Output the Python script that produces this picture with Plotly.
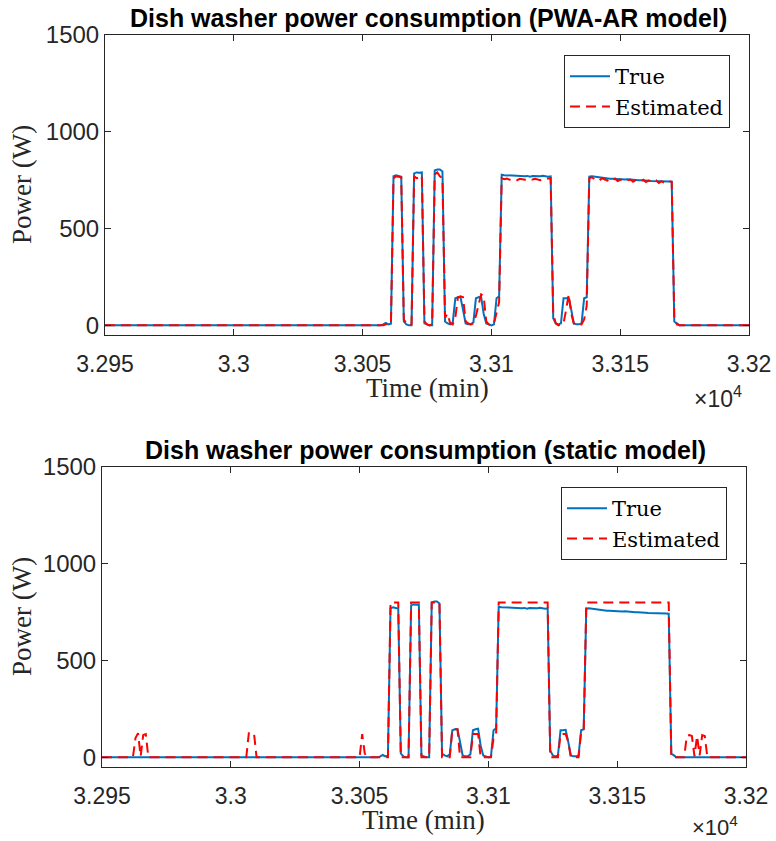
import plotly.graph_objects as go

# ---------------- data (time in minutes, power in W) ----------------
t_start = 32950
t_end = 33200
t_active = list(range(33055, 33174))

true_active = [
    0, 0, 0, 5, 12, 5, 8, 770, 775, 772, 768, 20, 5, 0, 0, 785, 790, 788, 790, 10,
    5, 0, 0, 800, 805, 805, 795, 20, 10, 5, 15, 140, 145, 145, 80, 10, 5, 5, 15, 140,
    145, 148, 60, 10, 5, 0, 5, 140, 150,
    778, 776, 775, 773, 772, 774, 770, 771, 769, 770, 772, 768, 771, 770, 768, 770,
    773, 770, 768, 770,
    36, 10, 5, 10, 140, 140, 142, 80, 10, 5, 5, 10, 140, 145,
    768, 770, 768, 765, 762, 760, 760, 758, 757, 757, 756, 757, 755, 755, 754, 755,
    753, 752, 752, 750, 750, 748, 748, 747, 746, 746, 745, 745, 744, 744, 743, 743, 742,
    20, 10, 0,
]

pwa_active = [
    0, 0, 0, 0, 5, 10, 8, 760, 770, 768, 765, 30, 10, 0, 5, 770, 760, 765, 775, 20,
    5, 0, 5, 780, 790, 770, 760, 40, 60, 10, 5, 40, 145, 150, 145, 20, 10, 5, 10, 50,
    110, 160, 150, 20, 5, 0, 10, 60, 120,
    760, 755, 758, 752, 757, 755, 750, 757, 755, 752, 758, 755, 753, 757, 755, 750,
    755, 760, 758, 760,
    60, 10, 0, 5, 10, 80, 160, 60, 10, 5, 0, 5, 30, 100,
    760, 765, 755, 758, 750, 760, 752, 748, 757, 750, 758, 745, 752, 755, 748, 750,
    753, 742, 750, 748, 745, 752, 740, 748, 745, 742, 748, 735, 745, 738, 736, 745, 742,
    30, 5, 0,
]

static_active = [
    0, 0, 0, 0, 0, 0, 0, 800, 800, 800, 800, 0, 0, 0, 0, 800, 800, 800, 800, 0,
    0, 0, 0, 800, 800, 800, 800, 0, 0, 0, 0, 145, 145, 145, 0, 0, 0, 0, 0, 120,
    120, 120, 0, 0, 0, 0, 0, 100, 120,
    800, 800, 800, 800, 800, 800, 800, 800, 800, 800, 800, 800, 800, 800, 800, 800,
    800, 800, 800, 800,
    0, 0, 0, 0, 120, 120, 120, 80, 0, 0, 0, 0, 130, 140,
    800, 800, 800, 800, 800, 800, 800, 800, 800, 800, 800, 800, 800, 800, 800, 800,
    800, 800, 800, 800, 800, 800, 800, 800, 800, 800, 800, 800, 800, 800, 800, 800, 800,
    0, 0, 0,
]

# spurious static-model spikes in the idle periods
static_pre_t = [32962, 32963, 32964, 32965, 32966, 32967, 32968,
                33006, 33007, 33008, 33009, 33010,
                33050, 33051, 33052, 33053]
static_pre_v = [0, 100, 125, 5, 115, 120, 0,
                0, 125, 125, 125, 0,
                0, 120, 20, 0]
static_post_t = [33176, 33177, 33178, 33179, 33180, 33181, 33182, 33183, 33184, 33185]
static_post_v = [0, 110, 115, 110, 5, 110, 10, 115, 110, 0]

x_tickvals = [32950, 33000, 33050, 33100, 33150, 33200]
x_ticktext = ["3.295", "3.3", "3.305", "3.31", "3.315", "3.32"]
y_tickvals = [0, 500, 1000, 1500]

# ---------------- full series ----------------
t_full = [t_start] + t_active + [t_end]
true_full = [0] + true_active + [0]
pwa_full = [0] + pwa_active + [0]
t_static = [t_start] + static_pre_t + t_active + static_post_t + [t_end]
static_full = [0] + static_pre_v + static_active + static_post_v + [0]

W, H = 776, 841
BLUE = "#0072BD"
RED = "#FF0000"
AX = "#262626"
SANS = "Liberation Sans, Arial, sans-serif"
SERIF = "Liberation Serif, Times New Roman, serif"
LSERIF = "DejaVu Serif, Liberation Serif, serif"

def px(x):
    return x / W

def py(y):
    return 1 - y / H

fig = go.Figure()

fig.add_trace(go.Scatter(x=t_full, y=true_full, mode="lines", name="True",
                         line=dict(color=BLUE, width=2), xaxis="x", yaxis="y",
                         legend="legend"))
fig.add_trace(go.Scatter(x=t_full, y=pwa_full, mode="lines", name="Estimated",
                         line=dict(color=RED, width=2, dash="10px,6px"),
                         xaxis="x", yaxis="y", legend="legend"))
fig.add_trace(go.Scatter(x=t_full, y=true_full, mode="lines", name="True",
                         line=dict(color=BLUE, width=2), xaxis="x2", yaxis="y2",
                         legend="legend2"))
fig.add_trace(go.Scatter(x=t_static, y=static_full, mode="lines", name="Estimated",
                         line=dict(color=RED, width=2, dash="10px,6px"),
                         xaxis="x2", yaxis="y2", legend="legend2"))

common_x = dict(range=[t_start, t_end], tickvals=x_tickvals, ticktext=x_ticktext,
                ticks="inside", ticklen=6, tickwidth=1, tickcolor=AX,
                showline=True, linecolor=AX, linewidth=1, mirror="ticks",
                showgrid=False, zeroline=False, automargin=False,
                ticklabelstandoff=8,
                tickfont=dict(family=SANS, size=23, color=AX))
common_y = dict(range=[-50, 1500], tickvals=y_tickvals,
                ticks="inside", ticklen=6, tickwidth=1, tickcolor=AX,
                showline=True, linecolor=AX, linewidth=1, mirror="ticks",
                showgrid=False, zeroline=False, automargin=False,
                tickfont=dict(family=SANS, size=24, color=AX))

legend_common = dict(xanchor="right", yanchor="top",
                     bordercolor=AX, borderwidth=1, bgcolor="white",
                     font=dict(family=LSERIF, size=21, color="black"),
                     tracegroupgap=0, itemwidth=40)

fig.update_layout(
    template="none",
    width=W, height=H,
    margin=dict(l=0, r=0, t=0, b=0, autoexpand=False),
    paper_bgcolor="white", plot_bgcolor="white",
    xaxis=dict(domain=[px(105), px(749)], anchor="y", **common_x),
    yaxis=dict(domain=[py(335), py(35)], anchor="x", **common_y),
    xaxis2=dict(domain=[px(102), px(746)], anchor="y2", **common_x),
    yaxis2=dict(domain=[py(767), py(467)], anchor="x2", **common_y),
    legend=dict(x=px(730), y=py(55), **legend_common),
    legend2=dict(x=px(727), y=py(487), **legend_common),
)

annotations = [
    dict(text="<b>Dish washer power consumption (PWA-AR model)</b>",
         x=px(428), y=py(18), font=dict(family=SANS, size=25, color="black")),
    dict(text="<b>Dish washer power consumption (static model)</b>",
         x=px(425), y=py(450), font=dict(family=SANS, size=25, color="black")),
    dict(text="Time (min)", x=px(427), y=py(388),
         font=dict(family=SERIF, size=27, color=AX)),
    dict(text="Time (min)", x=px(424), y=py(820),
         font=dict(family=SERIF, size=27, color=AX)),
    dict(text="Power (W)", x=px(22), y=py(185), textangle=-90,
         font=dict(family=SERIF, size=27, color=AX)),
    dict(text="Power (W)", x=px(22), y=py(617), textangle=-90,
         font=dict(family=SERIF, size=27, color=AX)),
    dict(text="×10<sup>4</sup>", x=px(718), y=py(397),
         font=dict(family=SANS, size=23, color=AX)),
    dict(text="×10<sup>4</sup>", x=px(715), y=py(826),
         font=dict(family=SANS, size=22, color=AX)),
]
for a in annotations:
    a.update(xref="paper", yref="paper", showarrow=False,
             xanchor="center", yanchor="middle")
fig.update_layout(annotations=annotations)

fig.write_html("out.html")
